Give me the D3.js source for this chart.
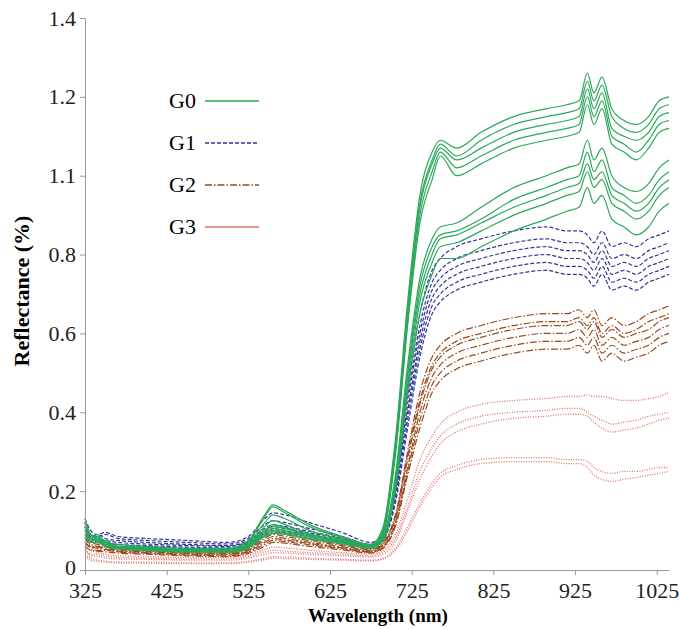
<!DOCTYPE html>
<html lang="en">
  <head>
    <meta charset="UTF-8" />
    <title>Reflectance</title>
    <style>
      body { margin: 0; background: #fff; }
    </style>
  </head>
  <body>
    <svg id="svg" width="679" height="629"></svg>

    <script src="https://cdn.jsdelivr.net/npm/d3@7"></script>
    <script>
      // wavelengths (nm) shared by every curve
      const wavelengths = [325, 332, 340, 350, 365, 400, 450, 500, 525, 545, 555, 570, 600, 640, 675, 690, 705, 720, 735, 750, 760, 780, 810, 850, 890, 915, 930, 940, 948, 958, 970, 985, 1000, 1015, 1028, 1040];

      const groups = ["G0", "G1", "G2", "G3"];
      const yTicks = [0, 0.2, 0.4, 0.6, 0.8, 1.0, 1.2, 1.4];
      const yTickLabels = ["0", "0.2", "0.4", "0.6", "0.8", "1.1", "1.2", "1.4"];
      const xTicks = [325, 425, 525, 625, 725, 825, 925, 1025];

      const g0 = [
        [0.12,0.08,0.09,0.07,0.065,0.06,0.055,0.055,0.075,0.14,0.165,0.15,0.115,0.085,0.065,0.11,0.33,0.68,0.95,1.06,1.09,1.07,1.11,1.15,1.17,1.18,1.19,1.26,1.21,1.25,1.17,1.14,1.13,1.15,1.19,1.20],
        [0.10,0.09,0.08,0.075,0.06,0.058,0.052,0.053,0.072,0.135,0.16,0.145,0.11,0.082,0.063,0.105,0.32,0.66,0.93,1.04,1.08,1.05,1.09,1.13,1.15,1.16,1.17,1.24,1.19,1.23,1.15,1.12,1.11,1.13,1.17,1.18],
        [0.11,0.07,0.085,0.07,0.06,0.056,0.05,0.05,0.068,0.12,0.14,0.13,0.10,0.078,0.06,0.10,0.31,0.65,0.92,1.03,1.07,1.04,1.07,1.11,1.13,1.14,1.15,1.22,1.17,1.21,1.12,1.10,1.09,1.11,1.15,1.16],
        [0.09,0.08,0.075,0.065,0.058,0.054,0.05,0.05,0.065,0.11,0.125,0.115,0.092,0.074,0.058,0.095,0.30,0.63,0.90,1.01,1.06,1.02,1.05,1.09,1.11,1.12,1.13,1.20,1.15,1.19,1.10,1.08,1.06,1.09,1.13,1.14],
        [0.10,0.075,0.08,0.06,0.055,0.052,0.048,0.048,0.062,0.10,0.115,0.108,0.088,0.07,0.056,0.09,0.29,0.62,0.88,0.99,1.05,1.00,1.03,1.07,1.09,1.10,1.11,1.18,1.13,1.17,1.08,1.06,1.04,1.07,1.11,1.12],
        [0.13,0.09,0.08,0.07,0.06,0.055,0.05,0.05,0.065,0.10,0.11,0.105,0.09,0.075,0.06,0.085,0.24,0.52,0.74,0.84,0.87,0.88,0.92,0.97,1.00,1.02,1.03,1.09,1.04,1.07,1.00,0.97,0.96,0.98,1.02,1.04],
        [0.11,0.08,0.085,0.065,0.058,0.053,0.048,0.048,0.062,0.095,0.105,0.10,0.086,0.072,0.058,0.082,0.23,0.50,0.72,0.82,0.85,0.86,0.89,0.94,0.97,0.99,1.00,1.06,1.01,1.04,0.97,0.95,0.93,0.95,0.99,1.01],
        [0.12,0.07,0.08,0.065,0.056,0.052,0.047,0.047,0.06,0.092,0.10,0.097,0.083,0.07,0.057,0.08,0.22,0.49,0.70,0.80,0.84,0.85,0.88,0.92,0.95,0.97,0.98,1.03,0.99,1.01,0.95,0.93,0.91,0.93,0.97,0.99],
        [0.10,0.08,0.075,0.06,0.055,0.05,0.046,0.046,0.058,0.088,0.097,0.093,0.08,0.068,0.056,0.078,0.21,0.47,0.68,0.78,0.82,0.83,0.86,0.90,0.93,0.95,0.96,1.01,0.97,0.99,0.93,0.91,0.89,0.91,0.95,0.97],
        [0.09,0.07,0.07,0.06,0.054,0.05,0.045,0.045,0.056,0.085,0.093,0.09,0.078,0.066,0.055,0.075,0.20,0.45,0.65,0.75,0.79,0.79,0.82,0.86,0.89,0.91,0.92,0.97,0.93,0.95,0.89,0.87,0.85,0.87,0.91,0.93]
      ];

      const g1 = [
        [0.13,0.10,0.09,0.095,0.085,0.08,0.075,0.07,0.085,0.13,0.145,0.14,0.12,0.095,0.07,0.09,0.22,0.46,0.65,0.76,0.79,0.82,0.84,0.86,0.87,0.86,0.86,0.85,0.83,0.86,0.82,0.83,0.82,0.84,0.85,0.86],
        [0.11,0.09,0.085,0.09,0.08,0.075,0.07,0.066,0.08,0.115,0.125,0.12,0.105,0.085,0.065,0.085,0.21,0.44,0.62,0.73,0.76,0.79,0.81,0.83,0.84,0.83,0.83,0.82,0.80,0.83,0.79,0.80,0.79,0.81,0.82,0.83],
        [0.12,0.085,0.09,0.08,0.075,0.07,0.065,0.062,0.075,0.105,0.115,0.11,0.098,0.08,0.062,0.082,0.20,0.42,0.60,0.71,0.74,0.77,0.79,0.81,0.82,0.81,0.81,0.80,0.78,0.81,0.77,0.78,0.77,0.79,0.80,0.81],
        [0.10,0.09,0.08,0.075,0.07,0.066,0.062,0.06,0.072,0.10,0.11,0.105,0.094,0.078,0.06,0.08,0.19,0.40,0.58,0.69,0.72,0.75,0.77,0.79,0.80,0.79,0.79,0.78,0.76,0.79,0.75,0.76,0.75,0.77,0.78,0.79],
        [0.11,0.08,0.075,0.07,0.065,0.062,0.058,0.056,0.068,0.095,0.105,0.10,0.09,0.075,0.058,0.078,0.18,0.38,0.56,0.67,0.70,0.73,0.75,0.77,0.78,0.77,0.77,0.76,0.74,0.77,0.73,0.74,0.73,0.75,0.76,0.77],
        [0.09,0.08,0.07,0.065,0.06,0.058,0.055,0.053,0.065,0.09,0.10,0.095,0.086,0.072,0.056,0.075,0.17,0.36,0.54,0.65,0.68,0.71,0.73,0.75,0.76,0.75,0.75,0.74,0.72,0.75,0.71,0.72,0.71,0.73,0.74,0.75]
      ];

      const g2 = [
        [0.09,0.07,0.065,0.06,0.055,0.05,0.046,0.044,0.055,0.085,0.095,0.09,0.078,0.065,0.052,0.07,0.14,0.30,0.45,0.54,0.57,0.60,0.62,0.64,0.65,0.65,0.66,0.64,0.66,0.62,0.64,0.62,0.63,0.65,0.66,0.67],
        [0.08,0.065,0.06,0.058,0.052,0.048,0.044,0.042,0.052,0.08,0.09,0.085,0.074,0.062,0.05,0.067,0.135,0.29,0.43,0.52,0.55,0.58,0.60,0.62,0.63,0.63,0.64,0.62,0.64,0.60,0.62,0.60,0.61,0.63,0.64,0.65],
        [0.07,0.06,0.058,0.055,0.05,0.046,0.042,0.04,0.05,0.075,0.085,0.08,0.07,0.059,0.048,0.064,0.13,0.28,0.42,0.51,0.54,0.57,0.59,0.61,0.62,0.62,0.63,0.61,0.63,0.59,0.61,0.59,0.60,0.61,0.63,0.64],
        [0.085,0.06,0.055,0.052,0.048,0.044,0.04,0.038,0.047,0.07,0.08,0.076,0.067,0.056,0.046,0.06,0.12,0.26,0.40,0.49,0.52,0.55,0.57,0.59,0.60,0.60,0.61,0.59,0.61,0.57,0.59,0.57,0.58,0.59,0.61,0.62],
        [0.07,0.055,0.05,0.05,0.046,0.042,0.038,0.036,0.045,0.065,0.075,0.072,0.064,0.054,0.045,0.058,0.115,0.25,0.38,0.47,0.50,0.53,0.55,0.57,0.58,0.58,0.59,0.57,0.59,0.55,0.57,0.55,0.56,0.57,0.59,0.60],
        [0.06,0.05,0.048,0.046,0.043,0.04,0.036,0.034,0.042,0.06,0.07,0.068,0.06,0.051,0.043,0.055,0.11,0.24,0.36,0.45,0.48,0.51,0.53,0.55,0.56,0.56,0.57,0.55,0.57,0.53,0.55,0.53,0.54,0.55,0.57,0.58]
      ];

      const g3 = [
        [0.07,0.05,0.045,0.04,0.036,0.034,0.032,0.032,0.038,0.052,0.058,0.056,0.05,0.044,0.04,0.05,0.09,0.18,0.28,0.34,0.37,0.40,0.42,0.43,0.435,0.44,0.44,0.445,0.44,0.44,0.435,0.43,0.43,0.435,0.44,0.45],
        [0.05,0.04,0.04,0.035,0.032,0.03,0.028,0.028,0.034,0.046,0.05,0.048,0.044,0.04,0.036,0.045,0.08,0.16,0.25,0.31,0.34,0.37,0.39,0.40,0.405,0.41,0.41,0.40,0.39,0.38,0.37,0.375,0.38,0.39,0.395,0.40],
        [0.06,0.035,0.035,0.03,0.028,0.027,0.025,0.025,0.03,0.04,0.044,0.043,0.04,0.036,0.033,0.04,0.072,0.15,0.23,0.29,0.32,0.35,0.37,0.385,0.39,0.395,0.395,0.39,0.375,0.36,0.35,0.355,0.36,0.37,0.38,0.385],
        [0.04,0.03,0.025,0.022,0.02,0.02,0.018,0.018,0.022,0.03,0.034,0.033,0.03,0.027,0.025,0.03,0.055,0.11,0.17,0.22,0.245,0.265,0.28,0.285,0.285,0.28,0.28,0.275,0.26,0.25,0.245,0.25,0.25,0.255,0.26,0.26],
        [0.035,0.025,0.022,0.02,0.018,0.017,0.016,0.016,0.02,0.026,0.03,0.029,0.027,0.025,0.023,0.028,0.05,0.10,0.16,0.21,0.235,0.255,0.27,0.275,0.275,0.27,0.27,0.26,0.24,0.23,0.225,0.23,0.235,0.24,0.245,0.25]
      ];

      const seriesByGroup = [g0, g1, g2, g3];
      const colors = ["#2aa85a", "#33349a", "#9a4a1c", "#e0706a"];
      const dashes = [null, "4,2", "7,2,1.5,2", "1,1.5"];
      const SERIF = "'Liberation Serif', 'DejaVu Serif', serif";

      const svg = d3.select("#svg");
      const x = d3.scaleLinear().domain([325, 1040]).range([85, 669]);
      const y = d3.scaleLinear().domain([0, 1.4]).range([570, 18]);

      const line = d3
        .line()
        .x((d, i) => x(wavelengths[i]))
        .y((d) => y(d))
        .curve(d3.curveMonotoneX);

      // red group first so green ends up on top
      [3, 2, 1, 0].forEach((gi) => {
        svg
          .append("g")
          .selectAll("path")
          .data(seriesByGroup[gi])
          .enter()
          .append("path")
          .attr("d", line)
          .attr("fill", "none")
          .attr("stroke", colors[gi])
          .attr("stroke-width", gi === 3 ? 1.3 : 1.2)
          .attr("stroke-dasharray", dashes[gi]);
      });

      const xAxis = svg
        .append("g")
        .attr("transform", "translate(0,570)")
        .call(
          d3
            .axisBottom(x)
            .tickValues(xTicks)
            .tickFormat(d3.format("d"))
            .tickSize(5)
            .tickSizeOuter(0)
            .tickPadding(7)
        );

      const yAxis = svg
        .append("g")
        .attr("transform", "translate(85,0)")
        .call(
          d3
            .axisLeft(y)
            .tickValues(yTicks)
            .tickFormat((d, i) => yTickLabels[i])
            .tickSize(5)
            .tickSizeOuter(0)
            .tickPadding(4)
        );

      [xAxis, yAxis].forEach((ax) => {
        ax.attr("font-family", SERIF).attr("font-size", 22);
        ax.selectAll("path, line").attr("stroke", "#999");
        ax.selectAll("text").attr("fill", "#222");
      });
      // nudge the bottom-left "0" up a little so it clears "325"
      yAxis.selectAll(".tick text").filter((d) => d === 0).attr("dy", "0.2em");

      svg
        .append("text")
        .attr("x", 378)
        .attr("y", 622)
        .attr("text-anchor", "middle")
        .attr("font-family", SERIF)
        .attr("font-weight", "bold")
        .attr("font-size", 19)
        .text("Wavelength (nm)");

      svg
        .append("text")
        .attr("transform", "translate(29,291) rotate(-90)")
        .attr("text-anchor", "middle")
        .attr("font-family", SERIF)
        .attr("font-weight", "bold")
        .attr("font-size", 22)
        .text("Reflectance (%)");

      // legend
      const legend = svg.append("g");
      groups.forEach((name, i) => {
        const ly = 101 + i * 42;
        legend
          .append("text")
          .attr("x", 169)
          .attr("y", ly + 7)
          .attr("font-family", SERIF)
          .attr("font-size", 22)
          .text(name);
        legend
          .append("line")
          .attr("x1", 205)
          .attr("x2", 259)
          .attr("y1", ly)
          .attr("y2", ly)
          .attr("stroke", colors[i])
          .attr("stroke-width", 1.3)
          .attr("stroke-dasharray", i === 3 ? null : dashes[i]);
      });
    </script>
  </body>
</html>
